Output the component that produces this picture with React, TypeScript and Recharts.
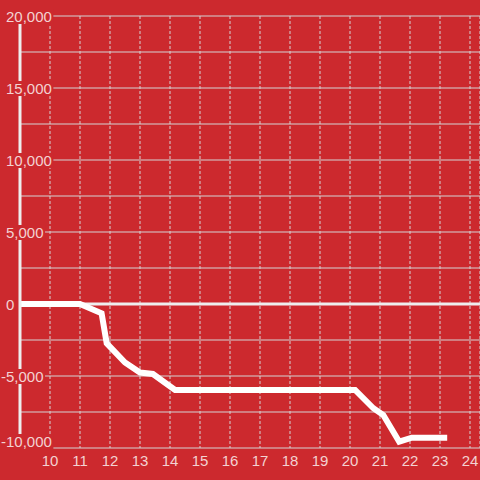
import React from "react";
import { LineChart, Line, XAxis, YAxis, CartesianGrid, ReferenceLine } from "recharts";

const xValues = [8.92, 11.0, 11.72, 11.89, 12.5, 13.0, 13.43, 14.17, 20.17, 20.78, 21.11, 21.64, 22.06, 23.24];
const yValues = [0, 0, -650, -2730, -4060, -4760, -4860, -5970, -5970, -7240, -7710, -9560, -9280, -9280];
const xTicks = [10, 11, 12, 13, 14, 15, 16, 17, 18, 19, 20, 21, 22, 23, 24];
const yTicks = [-10000, -7500, -5000, -2500, 0, 2500, 5000, 7500, 10000, 12500, 15000, 17500, 20000];
const yLabelled = [-10000, -5000, 0, 5000, 10000, 15000, 20000];

const data = xValues.map((x, i) => ({ x, y: yValues[i] }));

const BG = "#cc292e";
const TEXT = "#f3d2d2";
const FONT = "'Liberation Sans', Arial, sans-serif";

const fmt = (v: number) => {
  const s = Math.abs(v).toLocaleString("en-US");
  return (v < 0 ? "-" : "") + s;
};

const textWidth = (s: string, fs: number) => {
  let w = 0;
  for (const c of s) {
    if (c === ",") w += 0.278 * fs;
    else if (c === "-") w += 0.333 * fs;
    else w += 0.556 * fs;
  }
  return w;
};

const YTick = (props: any) => {
  const { y, payload } = props;
  const v = payload.value as number;
  if (!yLabelled.includes(v)) return <g />;
  const label = fmt(v);
  const fs = 15;
  const w = textWidth(label, fs);
  const startX = v < 0 ? 1 : 6;
  const isBottom = v === yTicks[0];
  const baseline = isBottom ? y - 1 : y + 6;
  return (
    <g>
      <rect x={0} y={baseline - 13} width={startX + w + 1.5} height={15} fill={BG} />
      <text x={startX} y={baseline} fill={TEXT} fontSize={fs} fontFamily={FONT} textAnchor="start">
        {label}
      </text>
    </g>
  );
};

const XTick = (props: any) => {
  const { x, y, payload } = props;
  return (
    <text x={x} y={y + 18} fill={TEXT} fontSize={15} fontFamily={FONT} textAnchor="middle">
      {payload.value}
    </text>
  );
};

export default function App() {
  return (
    <div style={{ position: "absolute", left: 0, top: 0, width: 480, height: 480, background: BG }}>
      <LineChart width={480} height={480} data={data} margin={{ top: 16, right: 0, left: 0, bottom: 0 }}>
        <CartesianGrid horizontal={true} vertical={false} stroke="#d4d4d4" strokeWidth={1} />
        <CartesianGrid horizontal={false} vertical={true} stroke="#d4d4d4" strokeWidth={1} strokeDasharray="3 2" />
        <XAxis
          dataKey="x"
          type="number"
          domain={[9, 24.3333]}
          ticks={xTicks}
          allowDataOverflow
          axisLine={false}
          tickLine={false}
          tickSize={0}
          tickMargin={0}
          height={32}
          tick={<XTick />}
          interval={0}
        />
        <YAxis
          type="number"
          domain={[-10000, 20000]}
          ticks={yTicks}
          width={20}
          axisLine={{ stroke: "#eeeeee", strokeWidth: 3 }}
          tickLine={false}
          tickSize={0}
          tickMargin={0}
          tick={<YTick />}
          interval={0}
        />
        <ReferenceLine y={0} stroke="#eeeeee" strokeWidth={3} />
        <Line
          type="linear"
          dataKey="y"
          stroke="#ffffff"
          strokeWidth={6}
          dot={false}
          activeDot={false}
          isAnimationActive={false}
        />
      </LineChart>
    </div>
  );
}
